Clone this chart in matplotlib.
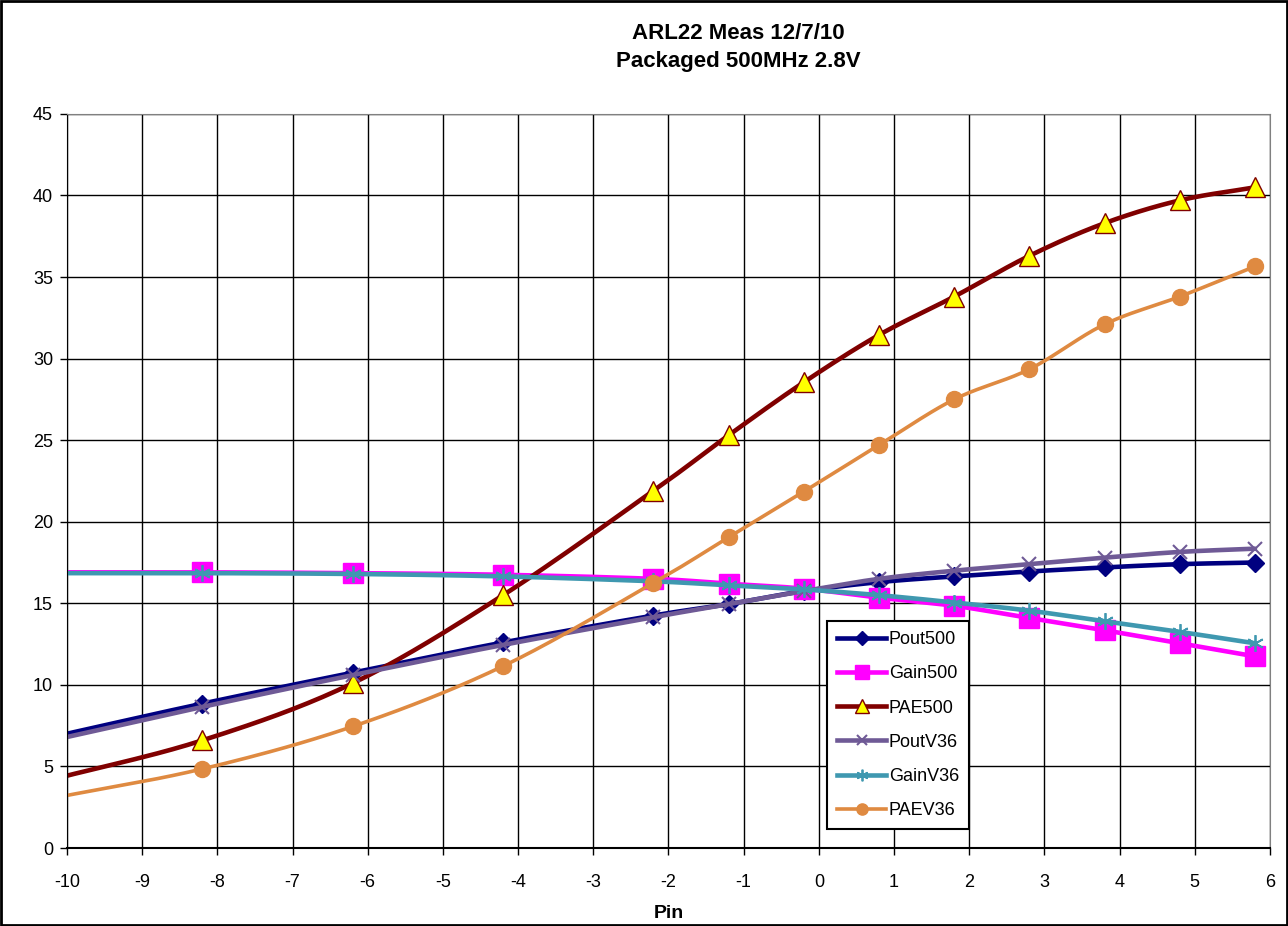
import matplotlib.pyplot as plt
import numpy as np

# Pin sweep (first point sits just left of the axis, as in the sheet)
pin = [-10.2, -8.2, -6.2, -4.2, -2.2, -1.2, -0.2, 0.8, 1.8, 2.8, 3.8, 4.8, 5.8]

pout500 = [6.8, 8.85, 10.75, 12.6, 14.25, 14.95, 15.75, 16.3, 16.65, 16.95, 17.2, 17.4, 17.5]
gain500 = [16.9, 16.9, 16.85, 16.75, 16.5, 16.2, 15.9, 15.35, 14.85, 14.1, 13.35, 12.55, 11.75]
pae500 = [4.2, 6.6, 10.1, 15.5, 21.9, 25.3, 28.55, 31.45, 33.8, 36.3, 38.3, 39.7, 40.5]
poutv36 = [6.6, 8.65, 10.6, 12.45, 14.15, 14.95, 15.75, 16.5, 17.0, 17.4, 17.8, 18.15, 18.35]
gainv36 = [16.85, 16.85, 16.8, 16.65, 16.35, 16.1, 15.85, 15.5, 15.05, 14.55, 13.9, 13.25, 12.55]
paev36 = [3.05, 4.85, 7.45, 11.15, 16.25, 19.05, 21.85, 24.7, 27.5, 29.35, 32.1, 33.8, 35.65]


def smooth(x, y, n=20):
    # Catmull-Rom curve through the points, like Excel's smoothed line
    x = np.asarray(x, float)
    y = np.asarray(y, float)
    px = np.concatenate([[2 * x[0] - x[1]], x, [2 * x[-1] - x[-2]]])
    py = np.concatenate([[2 * y[0] - y[1]], y, [2 * y[-1] - y[-2]]])
    xs, ys = [], []
    t = np.linspace(0, 1, n, endpoint=False)
    for i in range(1, len(px) - 2):
        for p, out in ((px, xs), (py, ys)):
            p0, p1, p2, p3 = p[i - 1], p[i], p[i + 1], p[i + 2]
            out.extend(0.5 * ((2 * p1) + (-p0 + p2) * t
                              + (2 * p0 - 5 * p1 + 4 * p2 - p3) * t ** 2
                              + (-p0 + 3 * p1 - 3 * p2 + p3) * t ** 3))
    xs.append(x[-1])
    ys.append(y[-1])
    return xs, ys


series = [
    ("Pout500", pout500, dict(color="#000080", marker="D", markersize=9.5,
                              mfc="#000080", mec="#000080")),
    ("Gain500", gain500, dict(color="#FF00FF", marker="s", markersize=14,
                              mfc="#FF00FF", mec="#FF00FF")),
    ("PAE500", pae500, dict(color="#800000", marker="^", markersize=15,
                            mfc="#FFFF00", mec="#800000", mew=1)),
    ("PoutV36", poutv36, dict(color="#6F5A96", marker="x", markersize=10,
                              mec="#6F5A96", mew=1.5)),
    ("GainV36", gainv36, dict(color="#3F98B0", marker=(6, 2, 0), markersize=12,
                              mec="#3F98B0", mew=1.3)),
    ("PAEV36", paev36, dict(color="#DF8A41", marker="o", markersize=11.5,
                            mfc="#DF8A41", mec="#DF8A41")),
]
widths = {"PAEV36": 2.6}

plt.rcParams["font.family"] = ["Liberation Sans", "DejaVu Sans"]
plt.rcParams["axes.unicode_minus"] = False

fig = plt.figure(figsize=(12.88, 9.26), dpi=100)
ax = fig.add_axes([0.052, 0.0842, 0.934, 0.7928])

handles = []
for name, vals, st in series:
    lw = widths.get(name, 3.3)
    sx, sy = smooth(pin, vals)
    ax.plot(sx, sy, color=st["color"], linewidth=lw, solid_capstyle="round")
    mk = {k: v for k, v in st.items() if k != "color"}
    ax.plot(pin[1:], vals[1:], linestyle="none", **mk)
    h, = ax.plot([], [], color=st["color"], linewidth=lw, label=name, **mk)
    handles.append(h)

ax.set_xlim(-10, 6)
ax.set_ylim(0, 45)
ax.set_xticks(range(-10, 7))
ax.set_yticks(range(0, 46, 5))
ax.grid(True, color="black", linewidth=1)
ax.set_axisbelow(True)
ax.tick_params(labelsize=13, direction="out", length=5, width=1, pad=5)
ax.tick_params(axis="x", pad=14)
for s in ax.spines.values():
    s.set_color("#808080")
ax.spines["left"].set_color("black")
ax.spines["bottom"].set_color("black")
ax.spines["bottom"].set_linewidth(1.5)

ax.set_xlabel("Pin", fontsize=14, fontweight="bold", labelpad=10)
fig.text(0.573, 0.964, "ARL22 Meas 12/7/10", ha="center", va="center",
         fontsize=16, fontweight="bold")
fig.text(0.573, 0.934, "Packaged 500MHz 2.8V", ha="center", va="center",
         fontsize=16, fontweight="bold")

leg_handles = [plt.Line2D([], [], color=h.get_color(), linewidth=h.get_linewidth(),
                          marker=h.get_marker(), markersize=h.get_markersize() * 0.7,
                          mfc=h.get_markerfacecolor(), mec=h.get_markeredgecolor(),
                          mew=h.get_markeredgewidth())
               for h in handles]
leg = ax.legend(handles=leg_handles, labels=[h.get_label() for h in handles],
                loc="lower left", bbox_to_anchor=(0.632, 0.026), fontsize=13,
                fancybox=False, framealpha=1, edgecolor="black",
                labelspacing=0.95, handlelength=2.7, handletextpad=0.15,
                borderpad=0.55, borderaxespad=0, numpoints=1)
leg.get_frame().set_linewidth(1.5)

fig.patches.append(plt.Rectangle((0.001, 0.001), 0.998, 0.998, transform=fig.transFigure,
                                 fill=False, edgecolor="black", linewidth=2))

fig.savefig("out.png", dpi=100)
